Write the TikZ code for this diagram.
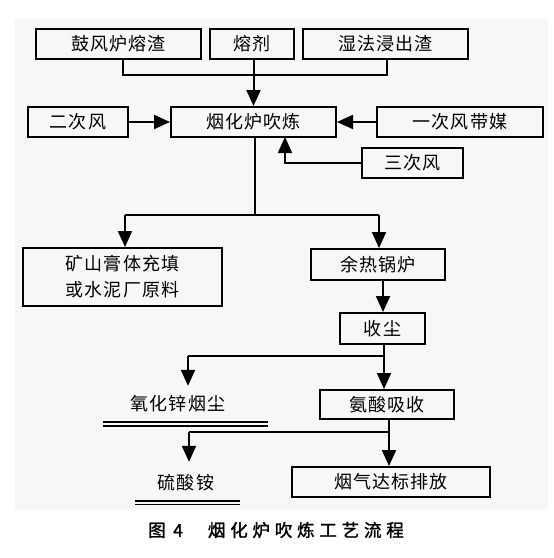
\documentclass[tikz,border=0pt]{standalone}
\usepackage{fontspec}
\newfontfamily\cjk[LetterSpace=6]{Noto Sans CJK SC}
\newfontfamily\cjkcap[FakeBold=1.5]{Noto Sans CJK SC}
\usetikzlibrary{arrows.meta}
\newcommand{\cs}{\hspace{4.8pt}}
\begin{document}
\begin{tikzpicture}[x=1pt,y=-1pt,
  box/.style={draw,line width=2pt,inner sep=0pt,font=\cjk\fontsize{18}{26}\selectfont},
  plain/.style={inner sep=0pt,font=\cjk\fontsize{18}{26}\selectfont},
  ln/.style={line width=2pt},
  arr/.style={line width=2pt,-{Triangle[length=16pt,width=14pt]}},
  dbl/.style={line width=1.4pt}]
\useasboundingbox (0,0) rectangle (554,558);
\fill[black!3] (15,19) rectangle (548,510);
% nodes
\node[box,minimum width=165pt,minimum height=30pt] (slag) at (118.5,44) {鼓风炉熔渣};
\node[box,minimum width=84pt,minimum height=30pt] (flux) at (252,44) {熔剂};
\node[box,minimum width=165pt,minimum height=30pt] (wet) at (385.5,44) {湿法浸出渣};
\node[box,minimum width=165pt,minimum height=30pt] (furn) at (253.5,122) {烟化炉吹炼};
\node[box,minimum width=100pt,minimum height=30pt] (sec) at (78,122) {二次风};
\node[box,minimum width=166pt,minimum height=30pt] (prim) at (460,122) {一次风带媒};
\node[box,minimum width=101pt,minimum height=30pt] (third) at (412.5,163) {三次风};
\node[box,minimum width=199pt,minimum height=58pt,align=center] (mine) at (122.5,277) {矿山膏体充填\\或水泥厂原料};
\node[box,minimum width=134pt,minimum height=31pt] (boil) at (378,264.5) {余热锅炉};
\node[box,minimum width=85pt,minimum height=31pt] (dust) at (382.5,328.5) {收尘};
\node[box,minimum width=134pt,minimum height=29pt] (amm) at (387,404.5) {氨酸吸收};
\node[box,minimum width=198pt,minimum height=30pt] (flue) at (391,482) {烟气达标排放};
\node[plain,minimum height=36pt] (zno) at (178,404) {氧化锌烟尘};
\node[plain,minimum height=42pt] (amsul) at (186,483) {硫酸铵};
\node[inner sep=0pt,anchor=west,font=\cjkcap\fontsize{17.5}{20}\selectfont] (cap) at (148,530) {图\hspace{7.5pt}4\hspace{25pt}烟\cs 化\cs 炉\cs 吹\cs 炼\cs 工\cs 艺\cs 流\cs 程};
% double underlines
\draw[dbl] (103,422) -- (268,422) (103,426) -- (268,426);
\draw[dbl] (135,501) -- (240,501) (135,504.5) -- (240,504.5);
% coordinates
\coordinate (j1) at (123,75);
\coordinate (j2) at (387,75);
\coordinate (t3) at (285,137);
\coordinate (s1) at (255,215);
\coordinate (sL) at (125,215);
\coordinate (sR) at (379,215);
\coordinate (b1) at (383,300);
\coordinate (d1) at (384,356);
\coordinate (dL) at (188,356);
\coordinate (a1) at (389,432);
\coordinate (aL) at (189,432);
% connectors
\draw[ln] (slag.south -| j1) -- (j1) -- (j2) -- (wet.south -| j2);
\draw[arr] (flux.south -| furn.north) -- (furn.north);
\draw[arr] (sec.east) -- (furn.west);
\draw[arr] (prim.west) -- (furn.east);
\draw[arr] (third.west) -| (t3);
\draw[ln] (furn.south -| s1) -- (s1);
\draw[ln] (sL) -- (sR);
\draw[arr] (sL) -- (mine.north -| sL);
\draw[arr] (sR) -- (boil.north -| sR);
\draw[arr] (boil.south -| b1) -- (dust.north -| b1);
\draw[ln] (dust.south -| d1) -- (d1) -- (dL);
\draw[arr] (dL) -- (zno.north -| dL);
\draw[arr] (d1) -- (amm.north -| d1);
\draw[ln] (amm.south -| a1) -- (a1) -- (aL);
\draw[arr] (aL) -- (amsul.north -| aL);
\draw[arr] (a1) -- (flue.north -| a1);
\end{tikzpicture}
\end{document}
